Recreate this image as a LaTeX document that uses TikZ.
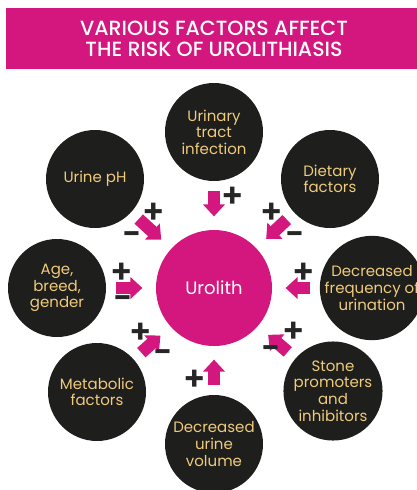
\documentclass[tikz,border=0pt]{standalone}
\usepackage{fontspec}
\setmainfont{Poppins}
\newfontfamily\titlefont{Poppins Medium}
\newfontfamily\signfont{Poppins SemiBold}
\usetikzlibrary{arrows.meta}
\definecolor{urolithpink}{HTML}{D4177E}
\definecolor{factordark}{HTML}{1E1E1C}
\definecolor{factorgold}{HTML}{EFCB7C}
\definecolor{signdark}{HTML}{262626}
\tikzset{
  titlebar/.style={
    rectangle, fill=urolithpink, text=white, align=center,
    minimum width=312pt, minimum height=45.75pt,
    font=\titlefont\fontsize{15.4pt}{15.6pt}\selectfont
  },
  factorcircle/.style={
    circle, fill=factordark, text=factorgold, align=center,
    minimum size=73.5pt, inner sep=0pt,
    font=\fontsize{11.25pt}{12.4pt}\selectfont
  },
  centercircle/.style={
    circle, fill=urolithpink, text=white, align=center,
    minimum size=87pt, inner sep=0pt,
    font=\fontsize{13.5pt}{15pt}\selectfont
  },
  factorarrow/.style={
    line width=9.4pt, color=urolithpink,
    -{Triangle[length=9pt, width=16pt]},
    shorten <=7.5pt, shorten >=10pt
  },
  signlabel/.style={
    text=signdark, inner sep=0pt,
    font=\signfont\fontsize{25pt}{25pt}\selectfont
  },
}

\begin{document}
\begin{tikzpicture}[x=0.75pt, y=-0.75pt]
  \useasboundingbox (0,0) rectangle (417,490);

  % Title
  \node[titlebar] (title) at (214,38.5)
    {VARIOUS FACTORS AFFECT\\THE RISK OF UROLITHIASIS};

  % Centre
  \node[centercircle] (urolith) at (214,288) {Urolith};

  % Factors
  \node[factorcircle] (infection) at (214,132) {Urinary\\tract\\infection};
  \node[factorcircle] (ph) at (95,179) {Urine pH};
  \node[factorcircle] (dietary) at (330,179) {Dietary\\factors};
  \node[factorcircle] (age) at (57,288) {Age,\\breed,\\gender};
  \node[factorcircle] (frequency) at (372,288) {Decreased\\frequency of\\urination};
  \node[factorcircle] (metabolic) at (97,392) {Metabolic\\factors};
  \node[factorcircle] (stone) at (333,391) {Stone\\promoters\\and\\inhibitors};
  \node[factorcircle] (volume) at (214,444) {Decreased\\urine\\volume};

  % Arrows
  \foreach \f in {infection, ph, dietary, age, frequency, metabolic, stone, volume}
    \draw[factorarrow] (\f) -- (urolith);

  % Signs
  \node[signlabel] (p1) at (233,197) {+};
  \node[signlabel] (p2) at (154,213) {+};
  \node[signlabel] (m2) at (132,239) {-};
  \node[signlabel] (p3) at (272,213) {+};
  \node[signlabel] (m3) at (295,239) {-};
  \node[signlabel] (p4) at (122,273) {+};
  \node[signlabel] (m4) at (123,303) {-};
  \node[signlabel] (p5) at (304,273) {+};
  \node[signlabel] (p6) at (141,333) {+};
  \node[signlabel] (m6) at (163,357) {-};
  \node[signlabel] (p7) at (294,332) {+};
  \node[signlabel] (m7) at (271,353) {-};
  \node[signlabel] (p8) at (195,380) {+};
\end{tikzpicture}
\end{document}
